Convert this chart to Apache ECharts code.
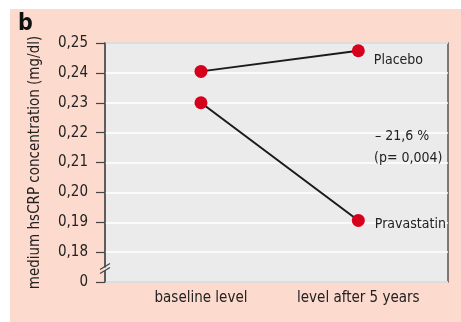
<!DOCTYPE html>
<html><head><meta charset="utf-8">
<script src="https://cdn.jsdelivr.net/npm/echarts@6/dist/echarts.min.js"></script>
<style>html,body{margin:0;padding:0;background:#fff}#c{width:461px;height:322px}</style>
</head><body><div id="c"></div>
<script>
var categories = ['baseline level', 'level after 5 years'];
var placebo = [0.2405, 0.2474];
var pravastatin = [0.2300, 0.1906];
var yTickValues = [0.17, 0.18, 0.19, 0.20, 0.21, 0.22, 0.23, 0.24, 0.25];
var yTickLabels = ['0', '0,18', '0,19', '0,20', '0,21', '0,22', '0,23', '0,24', '0,25'];
var seriesNames = ['Placebo', 'Pravastatin'];
var annotation = ['\u2013 21,6 %', '(p= 0,004)'];

var FONT = '"Liberation Sans Narrow","DejaVu Sans Condensed","Open Sans",sans-serif';
var S = 100; // scale values so ticks are integers
function pts(arr){ return arr.map(function(v,i){ return [i, Math.round(v*S*10000)/10000]; }); }

var chart = echarts.init(document.getElementById('c'), null, {renderer:'canvas'});
var option = {
  animation:false,
  backgroundColor:'#ffffff',
  grid:{left:105, top:43, right:13, bottom:40, show:true, backgroundColor:'#ebebeb', borderColor:'#555', borderWidth:1.5},
  xAxis:{type:'value', min:-0.61, max:1.57,
    axisLine:{show:false, onZero:false}, axisTick:{show:false}, splitLine:{show:false},
    axisLabel:{customValues:[0,1], formatter:function(v){ return categories[Math.round(v)]; },
      fontFamily:FONT, fontSize:15, color:'#222', margin:9}
  },
  yAxis:{type:'value', min:yTickValues[0]*S, max:yTickValues[yTickValues.length-1]*S, interval:1,
    name:'medium hsCRP concentration (mg/dl)', nameLocation:'middle', nameGap:62,
    nameTextStyle:{fontFamily:FONT, fontSize:15, color:'#222'},
    axisLine:{show:true, onZero:false, lineStyle:{color:'#555', width:1.5}},
    axisTick:{show:true, length:9, lineStyle:{color:'#444', width:1.2}},
    splitLine:{show:true, lineStyle:{color:'#ffffff', width:1.5}},
    axisLabel:{fontFamily:FONT, fontSize:15, color:'#222', margin:17,
      formatter:function(v){ var i = Math.round(v - yTickValues[0]*S); return yTickLabels[i]; }}
  },
  series:[
    {name:seriesNames[0], type:'line', data:pts(placebo), symbol:'circle', symbolSize:13,
     itemStyle:{color:'#d6001c'}, lineStyle:{color:'#1a1a1a', width:2}, z:3,
     label:{show:true, position:'right', distance:9, offset:[0,10], fontFamily:FONT, fontSize:14, color:'#222',
       formatter:function(p){ return p.dataIndex===1 ? seriesNames[0] : ''; }}},
    {name:seriesNames[1], type:'line', data:pts(pravastatin), symbol:'circle', symbolSize:13,
     itemStyle:{color:'#d6001c'}, lineStyle:{color:'#1a1a1a', width:2}, z:3,
     label:{show:true, position:'right', distance:10, offset:[0,4], fontFamily:FONT, fontSize:14, color:'#222',
       formatter:function(p){ return p.dataIndex===1 ? seriesNames[1] : ''; }}}
  ]
};
chart.setOption(option);

var yb = chart.convertToPixel({yAxisIndex:0}, 17.45);
var xa = 105;
chart.setOption({graphic:[
  {type:'rect', z:-10, silent:true, shape:{x:10, y:9, width:451, height:313}, style:{fill:'#fcdacd'}},
  {type:'text', left:18, top:13, style:{text:'b', font:'bold 23px "Liberation Sans Narrow","DejaVu Sans Condensed",sans-serif', fill:'#111'}},
  {type:'line', z:20, shape:{x1:xa-5, y1:yb+1, x2:xa+5, y2:yb-5}, style:{stroke:'#444', lineWidth:1.2}},
  {type:'line', z:20, shape:{x1:xa-5, y1:yb+5, x2:xa+5, y2:yb-1}, style:{stroke:'#444', lineWidth:1.2}},
  {type:'line', z:19, shape:{x1:xa, y1:yb-1, x2:xa, y2:yb+2}, style:{stroke:'#ebebeb', lineWidth:3}},
  {type:'text', left:375, top:129, style:{text:annotation[0], font:'14px '+FONT, fill:'#222'}},
  {type:'text', left:374, top:151, style:{text:annotation[1], font:'14px '+FONT, fill:'#222'}}
]});
</script></body></html>
